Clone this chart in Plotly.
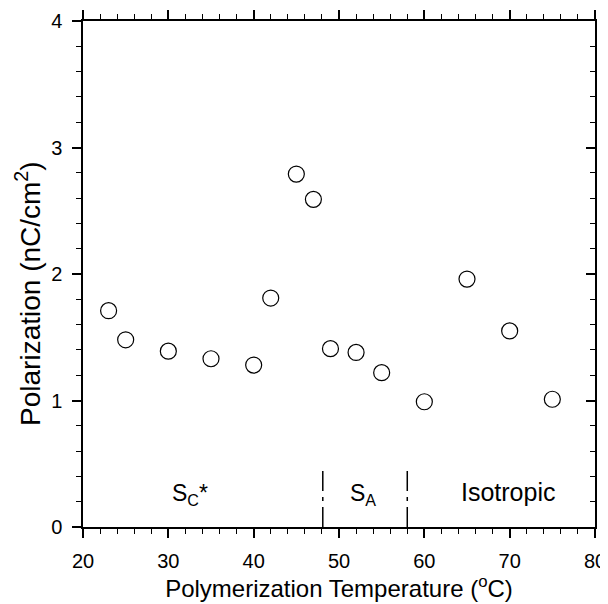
import plotly.graph_objects as go

temps = [23, 25, 30, 35, 40, 42, 45, 47, 49, 52, 55, 60, 65, 70, 75]
polarization = [1.71, 1.48, 1.39, 1.33, 1.28, 1.81, 2.79, 2.59, 1.41, 1.38, 1.22, 0.99, 1.96, 1.55, 1.01]

phase_bounds = [48.1, 58.0]
phase_line_top = 0.47
phase_labels = ["S<sub>C</sub>*", "S<sub>A</sub>", "Isotropic"]
phase_label_x = [32.5, 52.8, 69.8]
phase_label_y = [0.26, 0.26, 0.28]
phase_label_size = [23, 23, 25]

x_title = "Polymerization Temperature (<sup>o</sup>C)"
y_title = "Polarization (nC/cm<sup>2</sup>)"

FONT = "Liberation Sans, Arial, sans-serif"

fig = go.Figure()
fig.add_trace(go.Scatter(
    x=temps, y=polarization, mode="markers",
    marker=dict(symbol="circle-open", size=16, color="black", line=dict(width=1.2, color="black")),
    showlegend=False, hoverinfo="x+y"))

for xb in phase_bounds:
    fig.add_trace(go.Scatter(
        x=[xb, xb], y=[0, phase_line_top], mode="lines",
        line=dict(color="black", width=1.5, dash="20px,6px,4px,6px"),
        showlegend=False, hoverinfo="skip"))

for t, xx, yy, sz in zip(phase_labels, phase_label_x, phase_label_y, phase_label_size):
    fig.add_annotation(x=xx, y=yy, text=t, showarrow=False,
                       font=dict(family=FONT, size=sz, color="black"))

# y-axis title (slightly below the axis centre, as in the reference)
fig.add_annotation(xref="paper", yref="paper", x=-0.106, y=0.462, text=y_title,
                   textangle=-90, showarrow=False, xanchor="center", yanchor="middle",
                   font=dict(family=FONT, size=28, color="black"))

# invisible trace to anchor mirror axes
fig.add_trace(go.Scatter(x=[20, 80], y=[0, 4], xaxis="x2", yaxis="y2", mode="markers",
                         marker=dict(opacity=0), showlegend=False, hoverinfo="skip"))

# page body has an 8px default margin; figure size/margins compensate for it
fig.update_layout(
    width=600, height=596,
    margin=dict(l=75, r=13, t=13, b=77),
    paper_bgcolor="white", plot_bgcolor="white",
    font=dict(family=FONT, color="black"),
    xaxis=dict(range=[20, 80], tickvals=[20, 30, 40, 50, 60, 70, 80], automargin=False,
               ticks="outside", ticklen=9, tickwidth=1.5, tickcolor="black",
               showline=True, linecolor="black", linewidth=1.5,
               showgrid=False, zeroline=False, ticklabelstandoff=6,
               tickfont=dict(size=20, family=FONT),
               minor=dict(dtick=2, ticks="outside", ticklen=5, tickcolor="black", tickwidth=1, showgrid=False),
               title=dict(text=x_title, font=dict(size=24, family=FONT), standoff=3)),
    yaxis=dict(range=[0, 4], tickvals=[0, 1, 2, 3, 4], automargin=False,
               ticks="outside", ticklen=9, tickwidth=1.5, tickcolor="black",
               showline=True, linecolor="black", linewidth=1.5,
               showgrid=False, zeroline=False, ticklabelstandoff=6,
               tickfont=dict(size=20, family=FONT),
               minor=dict(dtick=0.2, ticks="outside", ticklen=5, tickcolor="black", tickwidth=1, showgrid=False)),
    xaxis2=dict(range=[20, 80], overlaying="x", side="top", anchor="y",
                tickvals=[20, 30, 40, 50, 60, 70, 80], showticklabels=False,
                ticks="outside", ticklen=9, tickwidth=1.5, tickcolor="black",
                showline=True, linecolor="black", linewidth=1.5,
                showgrid=False, zeroline=False, automargin=False,
                minor=dict(dtick=2, ticks="outside", ticklen=5, tickcolor="black", tickwidth=1, showgrid=False)),
    yaxis2=dict(range=[0, 4], overlaying="y", side="right", anchor="x",
                tickvals=[0, 1, 2, 3, 4], showticklabels=False,
                ticks="inside", ticklen=9, tickwidth=1.5, tickcolor="black",
                showline=True, linecolor="black", linewidth=1.5,
                showgrid=False, zeroline=False, automargin=False,
                minor=dict(dtick=0.2, ticks="inside", ticklen=5, tickcolor="black", tickwidth=1, showgrid=False)),
)

fig.write_html("out.html")
